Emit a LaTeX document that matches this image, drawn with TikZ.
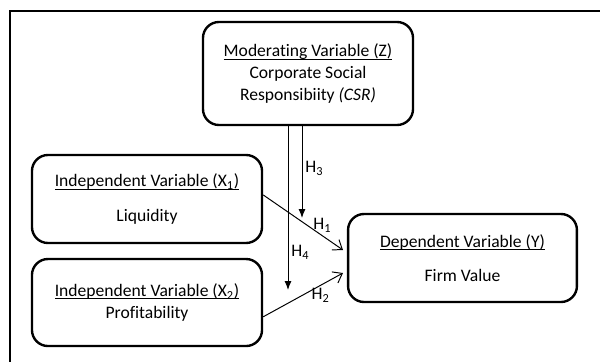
\documentclass[tikz,border=0pt]{standalone}
\usepackage{fontspec}
\setmainfont{Carlito}[Ligatures={NoCommon}]
\usetikzlibrary{arrows.meta,positioning}

% underline sitting close to the baseline
\newcommand\ulvar[1]{\setbox0\hbox{#1}\rlap{\rule[-1.8pt]{\wd0}{0.6pt}}\box0}

\begin{document}
\begin{tikzpicture}[x=0.025cm,y=-0.025cm,node distance=2.5875cm,
  var/.style={draw,line width=1.7pt,rounded corners=0.4cm,align=center,
    inner sep=0pt,font=\fontsize{12.5}{15.3}\selectfont},
  hyp/.style={line width=0.7pt},
  lbl/.style={inner sep=2pt,font=\fontsize{12.5}{14}\selectfont}]
\useasboundingbox (0,0) rectangle (600,362);
\draw[line width=1.5pt] (600,11) -- (10,11) -- (10,362);

\node (Z) [var,minimum width=5.25cm,minimum height=2.575cm] at (308,73.5)
  {\ulvar{Moderating Variable (Z)}\\Corporate Social\\Responsibiity \textit{(CSR)}};
\node (X1) [var,minimum width=5.75cm,minimum height=2.2cm] at (147,199)
  {\ulvar{Independent Variable (X\textsubscript{1})}\\[8.9pt]Liquidity};
\node (X2) [var,minimum width=5.75cm,minimum height=2.175cm,below of=X1]
  {\ulvar{Independent Variable (X\textsubscript{2})}\\Profitability};
\node (Y) [var,minimum width=5.72cm,minimum height=2.2cm] at (462.5,258)
  {\ulvar{Dependent Variable (Y)}\\[8.9pt]Firm Value};

\coordinate (H3end) at (302,218);
\coordinate (H4end) at (288,290);
\coordinate (H1end) at (343,250);
\coordinate (H2end) at (343,273);

\draw[hyp,-{Latex[length=6.4pt,width=5pt]}] (Z.south -| H3end) -- node[lbl,right,pos=0.46] {H\textsubscript{3}} (H3end);
\draw[hyp,-{Latex[length=6.4pt,width=5pt]}] (Z.south -| H4end) -- node[lbl,right,pos=0.77] {H\textsubscript{4}} (H4end);
\draw[hyp,-{Straight Barb[length=6pt,width=9pt]}] (X1.2) -- node[lbl,above,pos=0.74] {H\textsubscript{1}} (H1end);
\draw[hyp,-{Straight Barb[length=6pt,width=9pt]}] (X2.-7) -- node[lbl,below,pos=0.72] {H\textsubscript{2}} (H2end);
\end{tikzpicture}
\end{document}
